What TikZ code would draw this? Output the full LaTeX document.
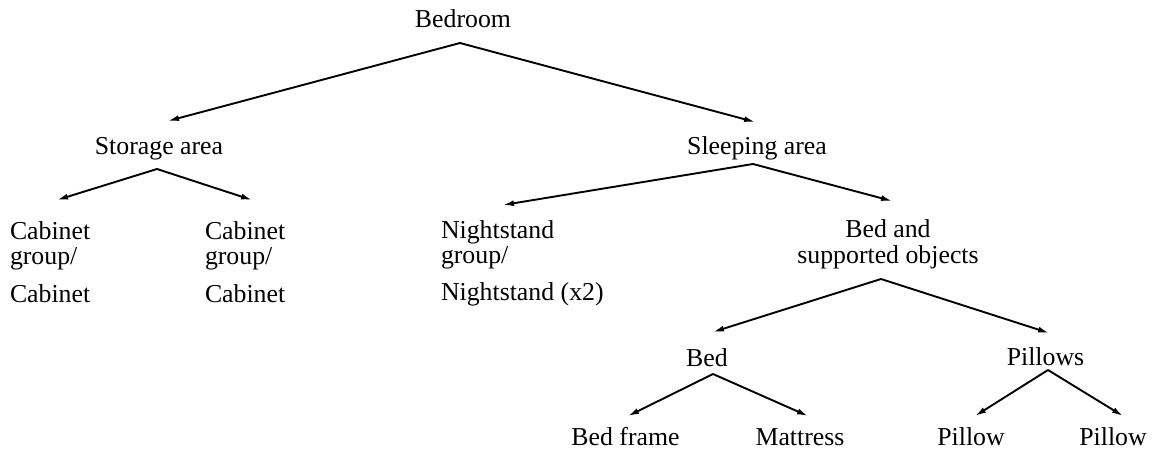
\documentclass[tikz,border=0pt]{standalone}
\usepackage{fontspec}
\setmainfont{Liberation Serif}
\usetikzlibrary{arrows.meta}
\tikzset{
  lbl/.style={inner sep=0pt, outer sep=0pt, font=\rmfamily\fontsize{25.8}{25}\selectfont},
  arr/.style={line width=1.9pt, -{Latex[length=11pt,width=6pt]}}
}
\begin{document}
\begin{tikzpicture}[x=1pt,y=-1pt]
\useasboundingbox[fill=white] (0,0) rectangle (1157,450);
% nodes
\node[lbl, anchor=base] (bedroom) at (463,27) {Bedroom};
\node[lbl, anchor=base] (storage) at (159,154) {Storage area};
\node[lbl, anchor=base] (sleeping) at (757,154) {Sleeping area};
\node[lbl, anchor=base west] (cab1a) at (10,239) {Cabinet};
\node[lbl, anchor=base west] (cab1b) at (10,264) {group/};
\node[lbl, anchor=base west] (cab1c) at (10,302) {Cabinet};
\node[lbl, anchor=base west] (cab2a) at (205,239) {Cabinet};
\node[lbl, anchor=base west] (cab2b) at (205,264) {group/};
\node[lbl, anchor=base west] (cab2c) at (205,302) {Cabinet};
\node[lbl, anchor=base west] (ns1) at (441,238) {Nightstand};
\node[lbl, anchor=base west] (ns2) at (441,263) {group/};
\node[lbl, anchor=base west] (ns3) at (441,300) {Nightstand (x2)};
\node[lbl, anchor=base] (bso1) at (888,237) {Bed and};
\node[lbl, anchor=base] (bso2) at (888,263) {supported objects};
\node[lbl, anchor=base] (bed) at (707,366) {Bed};
\node[lbl, anchor=base] (pillows) at (1045.5,365) {Pillows};
\node[lbl, anchor=base] (bedframe) at (625.5,445) {Bed frame};
\node[lbl, anchor=base] (mattress) at (800,445) {Mattress};
\node[lbl, anchor=base] (pillow1) at (971,445) {Pillow};
\node[lbl, anchor=base] (pillow2) at (1113,445) {Pillow};
% connector ends
\coordinate (bedroom-o) at (460,43);
\coordinate (storage-i) at (168,121);
\coordinate (sleeping-i) at (755,122);
\coordinate (storage-o) at (157,169);
\coordinate (cab1-i) at (57,200);
\coordinate (cab2-i) at (252,200);
\coordinate (sleeping-o) at (753,164);
\coordinate (ns-i) at (503,205);
\coordinate (bso-i) at (892,201);
\coordinate (bso-o) at (881,279);
\coordinate (bed-i) at (713,332);
\coordinate (pillows-i) at (1049,333);
\coordinate (bed-o) at (713,374);
\coordinate (bedframe-i) at (628,416);
\coordinate (mattress-i) at (808,416);
\coordinate (pillows-o) at (1048,370);
\coordinate (pillow1-i) at (975,416);
\coordinate (pillow2-i) at (1123,416);
% connectors
\draw[arr] (bedroom-o) -- (storage-i);
\draw[arr] (bedroom-o) -- (sleeping-i);
\draw[arr] (storage-o) -- (cab1-i);
\draw[arr] (storage-o) -- (cab2-i);
\draw[arr] (sleeping-o) -- (ns-i);
\draw[arr] (sleeping-o) -- (bso-i);
\draw[arr] (bso-o) -- (bed-i);
\draw[arr] (bso-o) -- (pillows-i);
\draw[arr] (bed-o) -- (bedframe-i);
\draw[arr] (bed-o) -- (mattress-i);
\draw[arr] (pillows-o) -- (pillow1-i);
\draw[arr] (pillows-o) -- (pillow2-i);
\end{tikzpicture}
\end{document}
